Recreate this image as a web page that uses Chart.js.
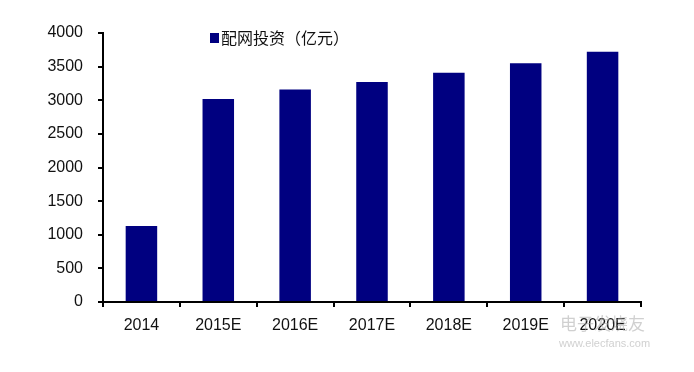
<!DOCTYPE html>
<html>
<head>
<meta charset="utf-8">
<script src="https://cdn.jsdelivr.net/npm/chart.js@4"></script>
<style>
html,body{margin:0;padding:0;background:#fff;}
#wrap{width:694px;height:372px;position:relative;}
</style>
</head>
<body>
<div id="wrap"><canvas id="c" width="694" height="372"></canvas></div>
<script>
const categories = ["2014", "2015E", "2016E", "2017E", "2018E", "2019E", "2020E"];
const investment = [1130, 3020, 3160, 3270, 3410, 3550, 3720];
const seriesName = "配网投资（亿元）";
const yTicks = [0, 500, 1000, 1500, 2000, 2500, 3000, 3500, 4000];
const watermark = ["电子发烧友", "www.elecfans.com"];

const legendPlugin = {
  id: 'customLegend',
  afterDraw(chart) {
    const ctx = chart.ctx;
    ctx.save();
    ctx.fillStyle = '#000080';
    ctx.fillRect(210, 33, 9, 10);
    ctx.fillStyle = '#111';
    ctx.font = '16px "Noto Sans CJK SC"';
    ctx.textBaseline = 'middle';
    ctx.textAlign = 'left';
    ctx.fillText(seriesName, 221, 38);
    // faint watermark
    ctx.fillStyle = 'rgba(170,170,170,0.55)';
    ctx.font = '17px "Noto Sans CJK SC"';
    ctx.fillText(watermark[0], 560, 324);
    ctx.font = '11px "Liberation Sans"';
    ctx.fillText(watermark[1], 559, 344);
    ctx.restore();
  }
};

new Chart(document.getElementById('c'), {
  type: 'bar',
  data: {
    labels: categories,
    datasets: [{
      label: seriesName,
      data: investment,
      backgroundColor: '#000080',
      borderWidth: 0,
      categoryPercentage: 1,
      barPercentage: 0.41
    }]
  },
  options: {
    responsive: false,
    animation: false,
    layout: { padding: { left: 0, right: 53, top: 33, bottom: 0 } },
    plugins: { legend: { display: false }, tooltip: { enabled: false } },
    scales: {
      x: {
        grid: { drawOnChartArea: false, drawTicks: true, tickLength: 5, color: '#000', lineWidth: 2, offset: true },
        border: { color: '#000', width: 2 },
        ticks: { color: '#111', font: { family: 'Liberation Sans', size: 16 }, padding: 9, maxRotation: 0 },
        afterFit(scale) { scale.height = 70; }
      },
      y: {
        min: 0,
        max: 4000,
        grid: { drawOnChartArea: false, drawTicks: true, tickLength: 5, color: '#000', lineWidth: 2 },
        border: { color: '#000', width: 2 },
        ticks: {
          stepSize: 500,
          color: '#111',
          font: { family: 'Liberation Sans', size: 16 },
          padding: 15,
          callback: (v) => yTicks.includes(v) ? String(v) : ''
        },
        afterFit(scale) { scale.width = 103; }
      }
    }
  },
  plugins: [legendPlugin]
});
</script>
</body>
</html>
